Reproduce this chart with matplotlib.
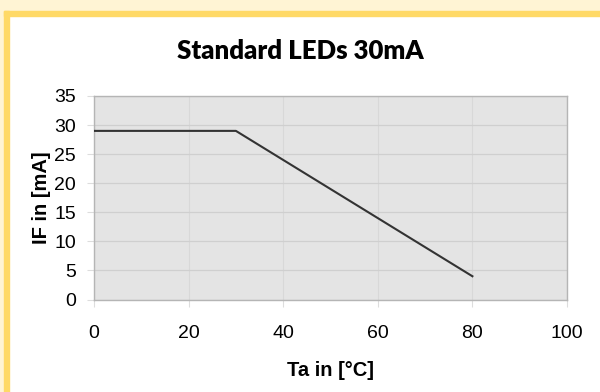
import matplotlib.pyplot as plt
from matplotlib.patches import Rectangle

# derating curve
ta = [0, 30, 80]
i_f = [29, 29, 4]
x_ticks = [0, 20, 40, 60, 80, 100]
y_ticks = [0, 5, 10, 15, 20, 25, 30, 35]

plt.rcParams['font.family'] = ['Liberation Sans', 'DejaVu Sans']

fig = plt.figure(figsize=(6, 3.92), dpi=100)
W, H = 600, 392

# frame: pale band top/left, yellow border line
fig.patches.append(Rectangle((0, 0), 1, 1, transform=fig.transFigure, color='white', zorder=-3))
fig.patches.append(Rectangle((0, 1 - 11 / H), 1, 11 / H, transform=fig.transFigure, color='#fff4d4', zorder=-2))
fig.patches.append(Rectangle((0, 0), 4 / W, 1, transform=fig.transFigure, color='#fff4d4', zorder=-2))
fig.patches.append(Rectangle((4 / W, 0), 5 / W, 1 - 11 / H, transform=fig.transFigure, color='#ffd966', zorder=-1))
fig.patches.append(Rectangle((4 / W, 1 - 16 / H), 1, 5 / H, transform=fig.transFigure, color='#ffd966', zorder=-1))

ax = fig.add_axes([94 / W, 1 - 299.5 / H, (567 - 94) / W, (299.5 - 96) / H])
ax.set_facecolor('#e4e4e4')
ax.plot(ta, i_f, color='#333333', lw=1.5, zorder=3)

ax.set_xlim(0, 100)
ax.set_ylim(0, 35)
ax.set_xticks(x_ticks)
ax.set_yticks(y_ticks)
ax.tick_params(labelsize=14, colors='#dddddd', labelcolor='black', length=5, width=0.8)
ax.tick_params(axis='x', pad=13)
ax.tick_params(axis='y', pad=8)
ax.yaxis.grid(True, color='#cfcfcf', lw=0.9)
ax.xaxis.grid(True, color='#d8d8d8', lw=0.8)
ax.set_axisbelow(True)
for s in ax.spines.values():
    s.set_color('#b5b5b5')
    s.set_linewidth(1)

ax.set_xlabel('Ta in [°C]', fontsize=14.5, fontweight='bold', labelpad=14)
ax.set_ylabel('IF in [mA]', fontsize=14.5, fontweight='bold', labelpad=2)
fig.text(0.5, 1 - 51 / H, 'Standard LEDs 30mA', ha='center', va='center',
         fontsize=18.5, fontweight='heavy', family=['Lato', 'DejaVu Sans'])

fig.savefig('out.png', dpi=100)
